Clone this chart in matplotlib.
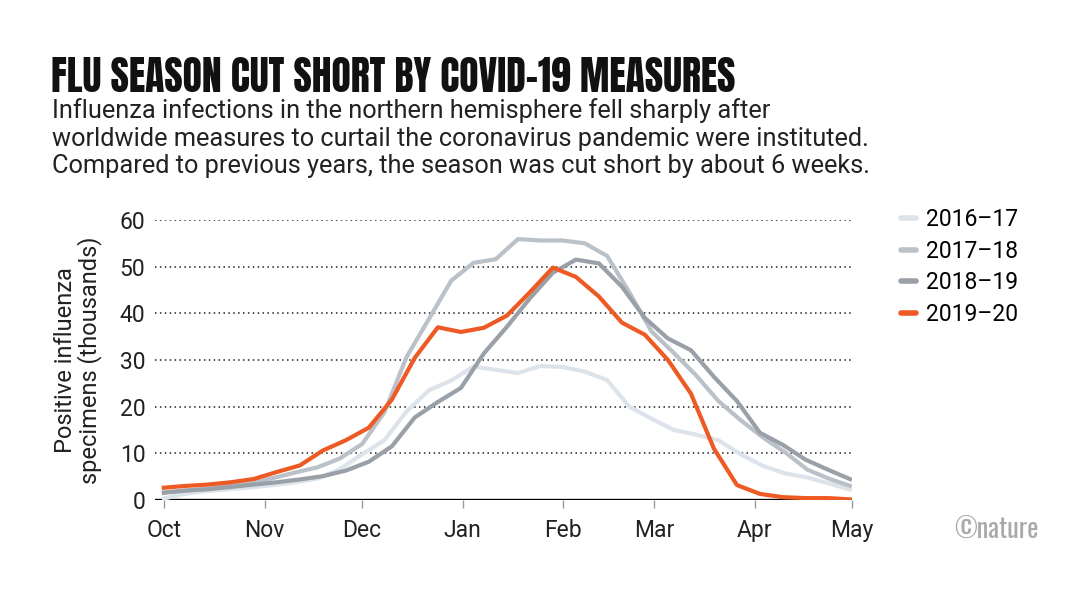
import numpy as np
import matplotlib.pyplot as plt
from matplotlib.lines import Line2D

# weekly positive influenza specimens (thousands)
season_1617 = [0.2, 1.3, 1.9, 2.3, 2.7, 3.2, 3.8, 4.6, 6.6, 9.8, 12.8, 19.0, 23.5, 25.6, 28.6, 27.9,
               27.2, 28.7, 28.5, 27.5, 25.7, 20.0, 17.4, 15.0, 14.0, 12.8, 9.8, 7.3, 5.7, 4.8, 3.5, 2.1]
season_1718 = [1.6, 2.0, 2.4, 3.0, 3.6, 4.7, 5.9, 7.0, 8.9, 12.0, 18.8, 30.7, 38.8, 47.0, 50.8, 51.6,
               55.9, 55.6, 55.6, 55.0, 52.3, 44.5, 36.1, 31.5, 26.7, 21.2, 17.1, 13.4, 10.2, 6.5, 4.5, 2.9]
season_1819 = [1.5, 2.0, 2.3, 2.8, 3.3, 3.8, 4.4, 5.1, 6.3, 8.2, 11.5, 17.7, 21.0, 24.0, 31.4, 37.1,
               43.2, 48.7, 51.5, 50.7, 45.7, 39.0, 34.6, 32.1, 26.4, 21.2, 14.4, 11.8, 8.6, 6.4, 4.3]
season_1920 = [2.6, 3.0, 3.3, 3.8, 4.5, 6.0, 7.4, 10.6, 12.8, 15.5, 21.5, 30.5, 37.0, 36.0, 36.9, 39.5,
               44.5, 49.8, 47.8, 43.6, 38.0, 35.4, 30.0, 22.8, 11.0, 3.2, 1.3, 0.6, 0.4, 0.4, 0.1]

labels = ['2016\u201317', '2017\u201318', '2018\u201319', '2019\u201320']
colors = ['#dde3ea', '#bac1c9', '#9aa0a8', '#ee5a24']
month_names = ['Oct', 'Nov', 'Dec', 'Jan', 'Feb', 'Mar', 'Apr', 'May']
month_days = [0, 31, 61, 92, 123, 151, 182, 212]  # days since 1 Oct
yticks = [0, 10, 20, 30, 40, 50, 60]

font = ['Roboto', 'DejaVu Sans']
title_font = ['Anton', 'Barlow Condensed', 'Oswald', 'DejaVu Sans']
ink = '#222222'

fig = plt.figure(figsize=(10.66, 6), dpi=100)
ax = fig.add_axes([0.1454, 0.1667, 0.6538, 0.4667])

series = [season_1617, season_1718, season_1819, season_1920]
for vals, col in zip(series, colors):
    x = np.linspace(-0.7, 212, len(vals))
    ax.plot(x, vals, color=col, lw=3, solid_joinstyle='round', solid_capstyle='butt', zorder=3)

ax.set_xlim(-2.8, 212)
ax.set_ylim(0, 60)
for v in yticks[1:]:
    ax.axhline(v, color=ink, lw=1.1, ls=(0, (1, 2.2)), zorder=1)
ax.axhline(0, color='black', lw=2.4, zorder=2)

for s in ax.spines.values():
    s.set_visible(False)
ax.set_xticks(month_days)
ax.set_xticklabels(month_names, fontsize=16.5, family=font, color=ink)
ax.tick_params(axis='x', length=6, width=1, color='#999999', pad=8)
ax.set_yticks(yticks)
ax.set_yticklabels(yticks, fontsize=16.5, family=font, color=ink)
ax.tick_params(axis='y', length=0, pad=7)
ax.set_ylabel('Positive influenza\nspecimens (thousands)', fontsize=17, family=font,
              color=ink, linespacing=1.0, labelpad=13)

handles = [Line2D([], [], color=c, lw=4, solid_capstyle='round') for c in colors]
fig.legend(handles, labels, loc='upper left', bbox_to_anchor=(0.826, 0.687), frameon=False,
           handlelength=0.65, handletextpad=0.45, labelspacing=0.37,
           prop={'family': font, 'size': 16.5})

fig.text(0.048, 0.847, 'FLU SEASON CUT SHORT BY COVID-19 MEASURES', fontsize=28.5,
         family=title_font, fontweight='heavy', color='#111111', va='baseline')
subtitle = ('Influenza infections in the northern hemisphere fell sharply after\n'
            'worldwide measures to curtail the coronavirus pandemic were instituted.\n'
            'Compared to previous years, the season was cut short by about 6 weeks.')
fig.text(0.049, 0.837, subtitle, fontsize=18.3, family=font, color=ink,
         va='top', linespacing=1.2)
fig.text(0.895, 0.103, '\u00a9nature', fontsize=19, family=['Oswald', 'DejaVu Serif'],
         color='#aaaaaa', va='baseline')

fig.savefig('out.png', dpi=100)
